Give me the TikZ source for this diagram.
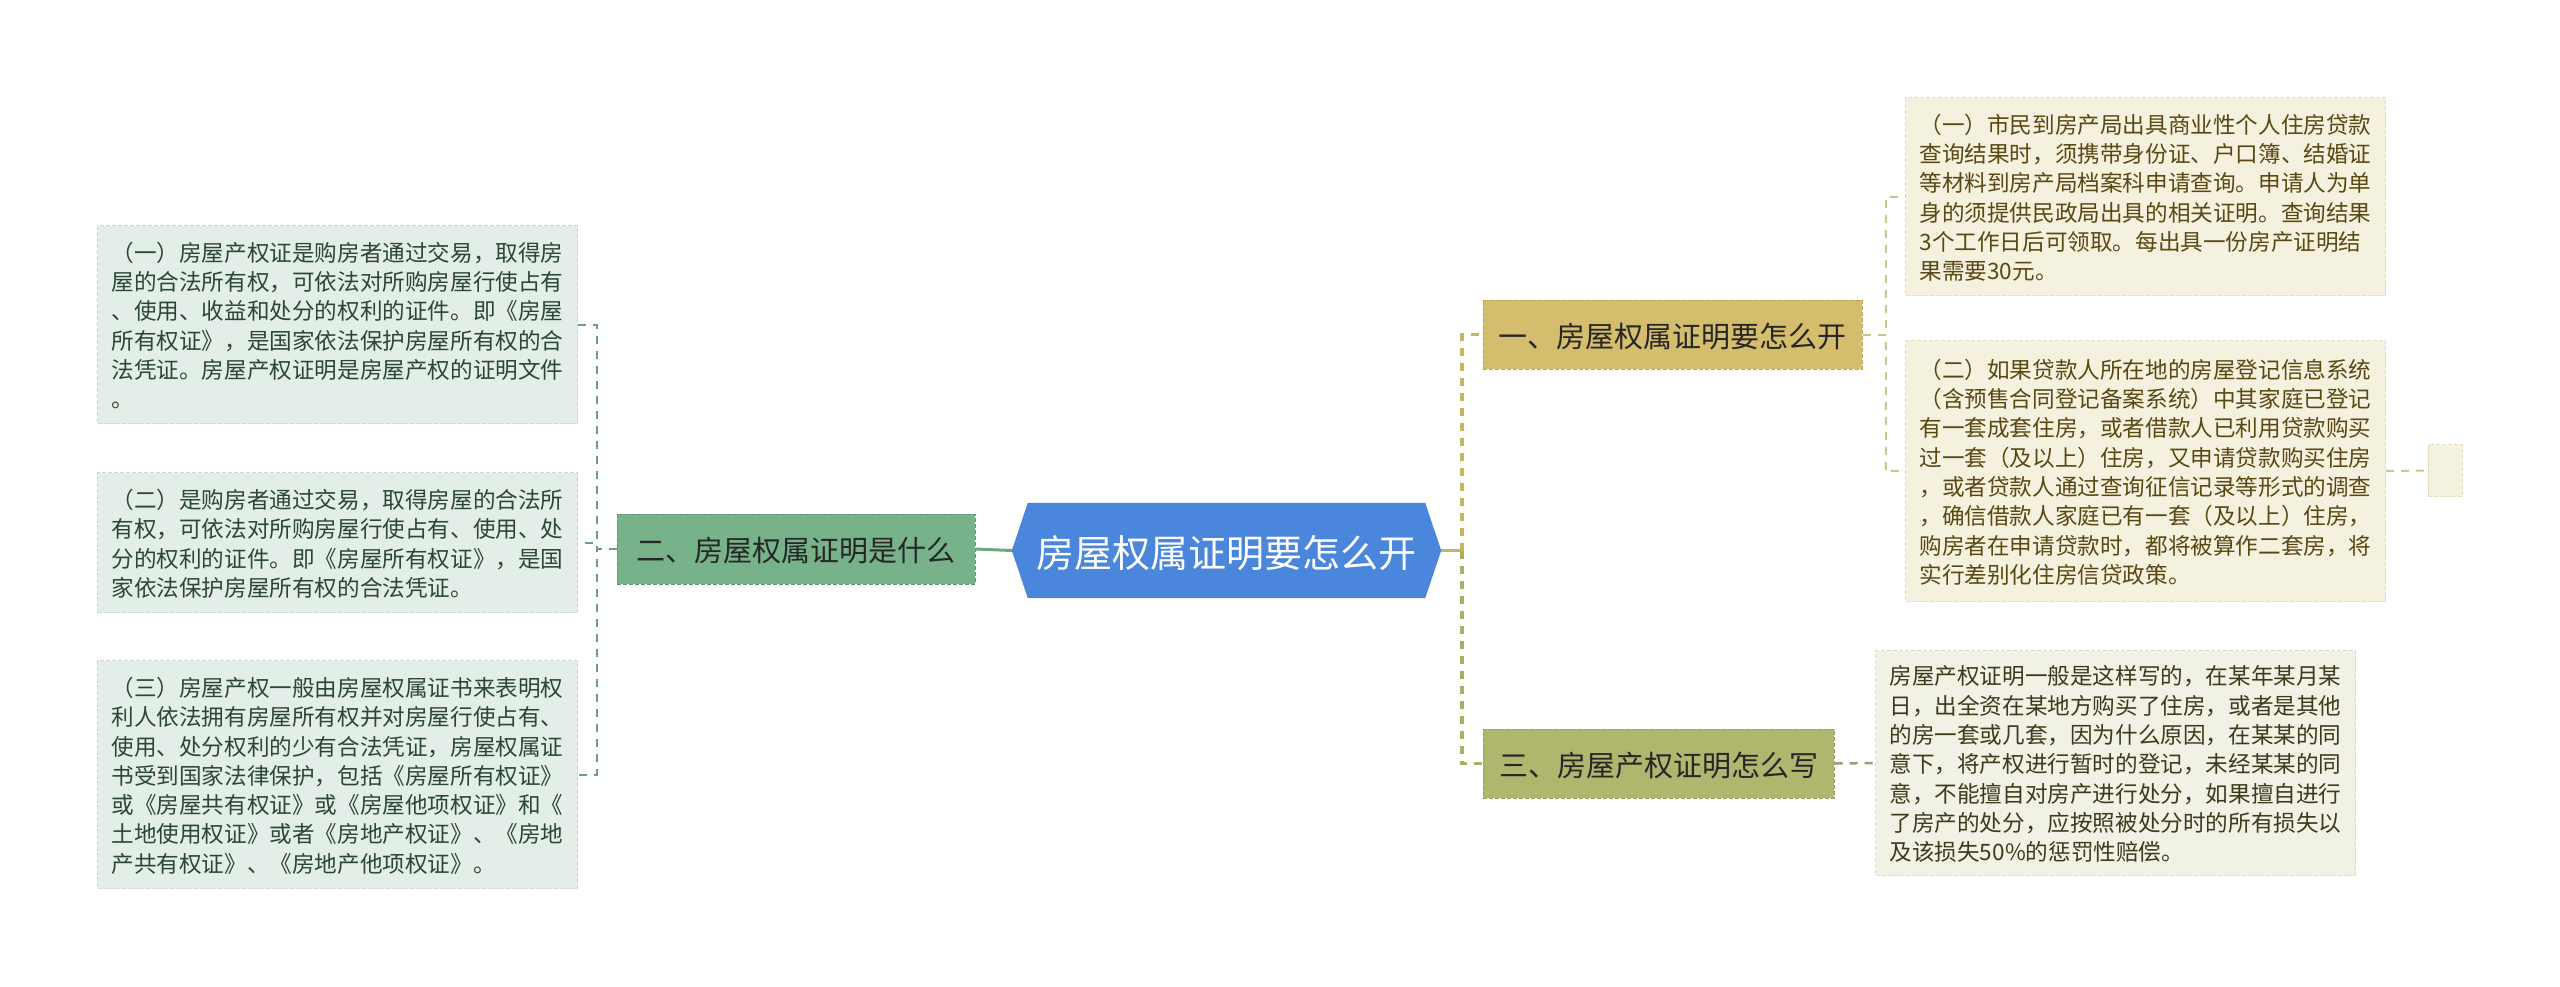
\documentclass[tikz,border=0pt]{standalone}
\usepackage{fontspec}
\newfontfamily\cjk{Noto Sans CJK SC}
\usetikzlibrary{backgrounds}
\XeTeXuseglyphmetrics=0
\newcommand\myleaffont{\cjk\fontsize{22.6}{29.3}\selectfont\setlength{\lineskiplimit}{-100pt}\setlength{\lineskip}{0pt}}
\definecolor{Lfill}{HTML}{E4EEE8}
\definecolor{Ldraw}{HTML}{C9D9CF}
\definecolor{Ltext}{HTML}{2B4636}
\definecolor{Rfill}{HTML}{F5F1DF}
\definecolor{Rdraw}{HTML}{E3DCBD}
\definecolor{Rtext}{HTML}{5A4812}
\definecolor{Sfill}{HTML}{F1F1E6}
\definecolor{Sdraw}{HTML}{DCDCC8}
\definecolor{Stext}{HTML}{3B3B1C}
\definecolor{erfill}{HTML}{78B28A}
\definecolor{erdraw}{HTML}{5E9A72}
\definecolor{yifill}{HTML}{D4BD6C}
\definecolor{yidraw}{HTML}{BFA752}
\definecolor{sanfill}{HTML}{AFB66E}
\definecolor{sandraw}{HTML}{98A058}
\definecolor{rootfill}{HTML}{4A86DB}
\definecolor{cL}{HTML}{6E9C86}
\definecolor{cG}{HTML}{6FA582}
\definecolor{cY}{HTML}{C9B560}
\definecolor{cO}{HTML}{A8B064}
\definecolor{cYt}{HTML}{CFC48A}
\definecolor{cOt}{HTML}{9AA070}
\tikzset{
  leafbox/.style={dash pattern=on 4pt off 2pt, line width=1pt, align=left,
    text width=452pt, inner xsep=14pt, inner ysep=4pt, minimum width=480pt,
    anchor=north west, font=\myleaffont},
  leafL/.style={leafbox, fill=Lfill, draw=Ldraw, text=Ltext},
  leafR/.style={leafbox, fill=Rfill, draw=Rdraw, text=Rtext},
  leafS/.style={leafbox, fill=Sfill, draw=Sdraw, text=Stext},
  topic/.style={dash pattern=on 4pt off 2pt, line width=1pt, inner sep=0pt,
    text=black!85, font=\cjk\fontsize{29}{34}\selectfont, minimum height=69pt},
  thinconn/.style={line width=2pt, dash pattern=on 8pt off 7pt},
  thickconn/.style={line width=3.5pt, dash pattern=on 8pt off 7pt}
}
\begin{document}
\begin{tikzpicture}[x=1pt,y=-1pt]
\useasboundingbox (0,0) rectangle (2560,986);
% root
\node[inner sep=0pt, minimum width=397pt, minimum height=95pt, text=white,
  font=\cjk\fontsize{38}{44}\selectfont] (root) at (1226.5,550.5) {房屋权属证明要怎么开};
\coordinate (rootW) at ([xshift=-16pt]root.west);
\coordinate (rootE) at ([xshift=16pt]root.east);
\begin{scope}[on background layer]
\fill[rootfill] (rootW) -- (root.north west) -- (root.north east) -- (rootE)
  -- (root.south east) -- (root.south west) -- cycle;
\end{scope}
% topics
\node[topic, fill=erfill, draw=erdraw, minimum width=358pt, minimum height=70pt] (er) at (796,549) {二、房屋权属证明是什么};
\node[topic, fill=yifill, draw=yidraw, minimum width=379pt] (yi) at (1672.5,334.5) {一、房屋权属证明要怎么开};
\node[topic, fill=sanfill, draw=sandraw, minimum width=351pt] (san) at (1658.5,763.5) {三、房屋产权证明怎么写};
% left leaves
\node[leafL, minimum height=198pt] (L1) at (97,225) {（一）房屋产权证是购房者通过交易，取得房\\屋的合法所有权，可依法对所购房屋行使占有\\、使用、收益和处分的权利的证件。即《房屋\\所有权证》，是国家依法保护房屋所有权的合\\法凭证。房屋产权证明是房屋产权的证明文件\\。};
\node[leafL, minimum height=140pt] (L2) at (97,472) {（二）是购房者通过交易，取得房屋的合法所\\有权，可依法对所购房屋行使占有、使用、处\\分的权利的证件。即《房屋所有权证》，是国\\家依法保护房屋所有权的合法凭证。};
\node[leafL, minimum height=228pt] (L3) at (97,660) {（三）房屋产权一般由房屋权属证书来表明权\\利人依法拥有房屋所有权并对房屋行使占有、\\使用、处分权利的少有合法凭证，房屋权属证\\书受到国家法律保护，包括《房屋所有权证》\\或《房屋共有权证》或《房屋他项权证》和《\\土地使用权证》或者《房地产权证》、《房地\\产共有权证》、《房地产他项权证》。};
% right leaves
\node[leafR, minimum height=198pt] (R1) at (1905,97) {（一）市民到房产局出具商业性个人住房贷款\\查询结果时，须携带身份证、户口簿、结婚证\\等材料到房产局档案科申请查询。申请人为单\\身的须提供民政局出具的相关证明。查询结果\\3个工作日后可领取。每出具一份房产证明结\\果需要30元。};
\node[leafR, minimum height=261pt] (R2) at (1905,340) {（二）如果贷款人所在地的房屋登记信息系统\\（含预售合同登记备案系统）中其家庭已登记\\有一套成套住房，或者借款人已利用贷款购买\\过一套（及以上）住房，又申请贷款购买住房\\，或者贷款人通过查询征信记录等形式的调查\\，确信借款人家庭已有一套（及以上）住房，\\购房者在申请贷款时，都将被算作二套房，将\\实行差别化住房信贷政策。};
\node[dash pattern=on 4pt off 2pt, line width=1pt, fill=Rfill, draw=Rdraw,
  minimum width=34pt, minimum height=52pt, inner sep=0pt] (sq) at (2445,470.5) {};
\node[leafS, minimum height=225pt] (R3) at (1875,650) {房屋产权证明一般是这样写的，在某年某月某\\日，出全资在某地方购买了住房，或者是其他\\的房一套或几套，因为什么原因，在某某的同\\意下，将产权进行暂时的登记，未经某某的同\\意，不能擅自对房产进行处分，如果擅自进行\\了房产的处分，应按照被处分时的所有损失以\\及该损失50\%的惩罚性赔偿。};
% connectors
\draw[cG, line width=3pt] (rootW) -- (er.east);
\coordinate (rootJ) at ([xshift=21pt]rootE);
\draw[cY, line width=3pt] (rootE) -- (rootJ);
\draw[cY, thickconn] (rootJ) |- (yi.west);
\draw[cO, thickconn] (rootJ) |- (san.west);
\draw[cL, thinconn] (er.west) -- ++(-20,0) |- (L1.east);
\draw[cL, thinconn] (er.west) -- ++(-20,0) |- (L2.east);
\draw[cL, thinconn] (er.west) -- ++(-20,0) |- (L3.east);
\draw[cYt, thinconn] (yi.east) -- ++(23,0) |- (R1.west);
\draw[cYt, thinconn] (yi.east) -- ++(23,0) |- (R2.west);
\draw[cYt, thinconn] (R2.east) -- (sq.west);
\draw[cOt, thinconn, line width=2.5pt] (san.east) -- (R3.west);
\end{tikzpicture}
\end{document}
